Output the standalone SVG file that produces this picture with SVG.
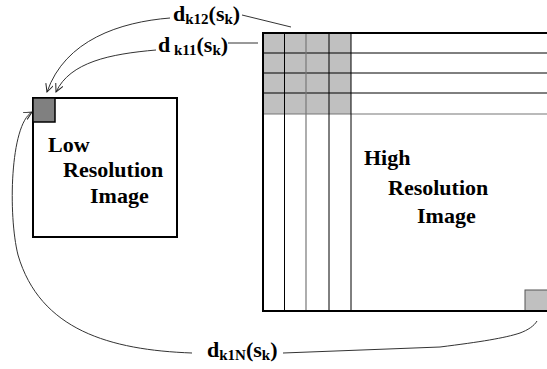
<svg xmlns="http://www.w3.org/2000/svg" width="547" height="369" viewBox="0 0 547 369">
<style>
text{font-family:'Liberation Serif','Times New Roman',Times,serif;font-weight:bold;fill:#000}
.big{font-size:22px}
.sub{font-size:15px}
.node{font-size:22px}
.conn{fill:none;stroke:#333;stroke-width:1}
.grid{stroke:#000;stroke-width:1}
.gridg{stroke:#777;stroke-width:1.2}
</style>
<defs>
<marker id="arr" markerWidth="9" markerHeight="9" refX="8" refY="4" orient="auto" markerUnits="userSpaceOnUse">
<path d="M0,0 L8,4 L0,8" fill="none" stroke="#222" stroke-width="1"/>
</marker>
</defs>
<rect width="547" height="369" fill="#fff"/>
<g id="low-res">
<rect x="33" y="98" width="144" height="139" fill="#fff" stroke="#000" stroke-width="2"/>
<rect x="33" y="98" width="22" height="24" fill="#808080" stroke="#000" stroke-width="1.5"/>
<text class="node" x="48" y="152">Low</text>
<text class="node" x="63" y="177">Resolution</text>
<text class="node" x="90" y="203">Image</text>
</g>
<g id="high-res">
<rect x="263" y="33" width="88" height="81" fill="#c0c0c0"/>
<line class="grid" x1="263" y1="53" x2="547" y2="53"/>
<line class="grid" x1="263" y1="73" x2="547" y2="73"/>
<line class="grid" x1="263" y1="93" x2="547" y2="93"/>
<line class="gridg" x1="263" y1="114" x2="547" y2="114"/>
<line class="grid" x1="284.5" y1="33" x2="284.5" y2="311"/>
<line class="gridg" x1="306" y1="33" x2="306" y2="311"/>
<line class="grid" x1="329" y1="33" x2="329" y2="311"/>
<line class="grid" x1="351" y1="33" x2="351" y2="311"/>
<rect x="525" y="290" width="40" height="21" fill="#c0c0c0" stroke="#555" stroke-width="1"/>
<rect x="263" y="33" width="300" height="278" fill="none" stroke="#000" stroke-width="2"/>
<text class="node" x="364" y="165">High</text>
<text class="node" x="388" y="195">Resolution</text>
<text class="node" x="417" y="223">Image</text>
</g>
<g id="labels">
<text x="173" y="21"><tspan class="big">d</tspan><tspan class="sub" dy="3">k12</tspan><tspan class="big" dy="-3">(s</tspan><tspan class="sub" dy="3">k</tspan><tspan class="big" dy="-3">)</tspan></text>
<text x="158" y="52"><tspan class="big">d</tspan><tspan class="sub" dy="3"> k11</tspan><tspan class="big" dy="-3">(s</tspan><tspan class="sub" dy="3">k</tspan><tspan class="big" dy="-3">)</tspan></text>
<text x="207" y="357"><tspan class="big">d</tspan><tspan class="sub" dy="3">k1N</tspan><tspan class="big" dy="-3">(s</tspan><tspan class="sub" dy="3">k</tspan><tspan class="big" dy="-3">)</tspan></text>
</g>
<g id="connectors">
<path class="conn" d="M242,15 L291,27"/>
<path class="conn" d="M228,43 L258,43" stroke="#666"/>
<path class="conn" d="M170,18 C120,22 65,40 47,92" marker-end="url(#arr)"/>
<path class="conn" d="M156,50 C110,54 70,62 56,92" marker-end="url(#arr)"/>
<path class="conn" d="M192,353 C110,350 40,330 18,255 C8,215 10,125 32,112" marker-end="url(#arr)"/>
<path class="conn" d="M283,353 L440,347 C480,342 505,338 520,333 C528,330 534,326 537,321"/>
</g>
</svg>
